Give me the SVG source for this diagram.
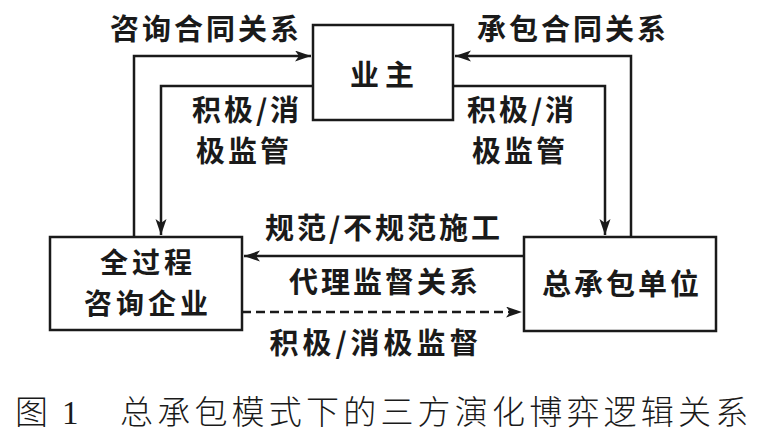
<svg xmlns="http://www.w3.org/2000/svg" width="761" height="444" viewBox="0 0 761 444">
<style>
.box{fill:#fff;stroke:#1a1a1a;stroke-width:2.5}
.ln{fill:none;stroke:#1a1a1a;stroke-width:2.5}
.dash{stroke-dasharray:9 5}
.lb{font-family:"Noto Sans CJK SC","Liberation Sans",sans-serif;font-size:29px;font-weight:bold;fill:#1a1a1a;text-anchor:middle;letter-spacing:3px}
.cap{font-family:"Liberation Serif","Noto Sans CJK SC",serif;font-size:33px;font-weight:300;fill:#1a1a1a}
</style>
<defs>
<marker id="ah" markerUnits="userSpaceOnUse" markerWidth="17" markerHeight="12" refX="16" refY="5.5" orient="auto">
<path d="M0,0 L16,5.5 L0,11 L4,5.5 z" fill="#1a1a1a"/>
</marker>
</defs>
<g id="connectors">
<path class="ln" d="M134,237 V56 H311" marker-end="url(#ah)"/>
<path class="ln" d="M313,86 H161 V235" marker-end="url(#ah)"/>
<path class="ln" d="M631,237 V56 H455" marker-end="url(#ah)"/>
<path class="ln" d="M453,86 H605 V235" marker-end="url(#ah)"/>
<path class="ln" d="M524,256 H244" marker-end="url(#ah)"/>
<path class="ln dash" d="M242,312 H522" marker-end="url(#ah)"/>
<text class="lb" x="206" y="40">咨询合同关系</text>
<text class="lb" x="573" y="40">承包合同关系</text>
<text class="lb" x="247" y="121">积极/消</text>
<text class="lb" x="244" y="162">极监管</text>
<text class="lb" x="522" y="121">积极/消</text>
<text class="lb" x="520" y="162">极监管</text>
<text class="lb" x="384" y="239">规范/不规范施工</text>
<text class="lb" x="385" y="293">代理监督关系</text>
<text class="lb" x="376" y="354" style="letter-spacing:4px">积极/消极监督</text>
</g>
<g id="owner">
<rect class="box" x="313" y="25" width="140" height="95"/>
<text class="lb" x="385" y="86" style="letter-spacing:6px">业主</text>
</g>
<g id="consultant">
<rect class="box" x="50" y="237" width="192" height="93"/>
<text class="lb" x="148" y="273" style="font-size:28px;letter-spacing:4px">全过程</text>
<text class="lb" x="148" y="314" style="font-size:28px;letter-spacing:4px">咨询企业</text>
</g>
<g id="contractor">
<rect class="box" x="524" y="237" width="192" height="94"/>
<text class="lb" x="622" y="295">总承包单位</text>
</g>
<g id="caption">
<text class="cap" y="424"><tspan x="15">图</tspan><tspan x="62">1</tspan><tspan x="120" style="letter-spacing:4.2px">总承包模式下的三方演化博弈逻辑关系</tspan></text>
</g>
</svg>
